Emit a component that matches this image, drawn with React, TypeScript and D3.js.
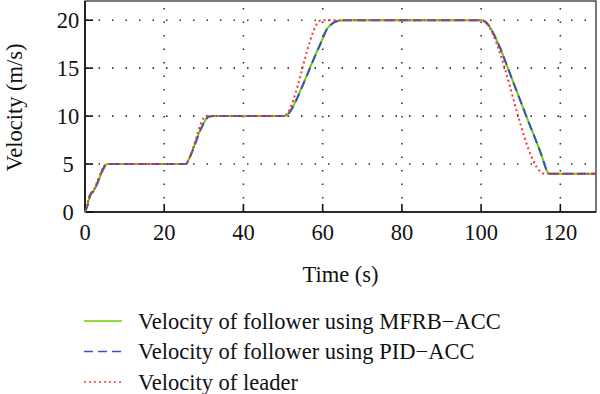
import React from 'react';
import * as d3 from 'd3';

// leader velocity (m/s) vs time (s)
const leaderTime = [0, 0.5, 1.3, 1.8, 5.5, 25.2, 30.6, 50.1, 59.7, 100, 116, 129];
const leaderVel = [0, 0.7, 1.9, 2.1, 5, 5, 10, 10, 20, 20, 4, 4];

// followers
const followerTime = [0, 0.6, 1.4, 2, 5.7, 25.5, 26.2, 29.5, 30.6, 31.3, 32.5, 50.5, 51.5, 52.5, 53.5, 54.4, 58.6, 60, 60.8, 62, 63, 64.5, 66, 100.2, 101, 102, 103, 104, 105, 106.7, 111.4, 115.5, 116.3, 116.9, 117.5, 129];
const mfrbVel = [0, 0.7, 1.9, 2.1, 5, 5, 5.5, 8.9, 9.7, 9.95, 10, 10, 10.35, 11.0, 11.85, 12.7, 16.8, 18.1, 18.9, 19.5, 19.8, 19.95, 20, 20, 19.85, 19.4, 18.7, 17.85, 16.9, 15.05, 10, 5.6, 4.6, 4.1, 4, 4];
const pidVel = [0, 0.6, 1.8, 2.1, 5, 5, 5.5, 8.85, 9.7, 9.95, 10, 10, 10.3, 10.95, 11.8, 12.65, 16.75, 18.05, 18.85, 19.5, 19.8, 19.95, 20, 20, 19.85, 19.4, 18.7, 17.85, 16.9, 15.05, 10, 5.6, 4.6, 4.1, 4, 4];

const xTicks = [0, 20, 40, 60, 80, 100, 120];
const yTicks = [0, 5, 10, 15, 20];

const legendLabels = [
  'Velocity of follower using MFRB\u2212ACC',
  'Velocity of follower using PID\u2212ACC',
  'Velocity of leader',
];

const GREEN = '#6fd000';
const BLUE = '#3b4fc4';
const RED = '#ff3030';
const FONT = '"Liberation Serif", "DejaVu Serif", serif';
const FS = 22.5;

const App = () => {
  const W = 600;
  const H = 394;
  const x = d3.scaleLinear().domain([0, 129]).range([85, 596]);
  const y = d3.scaleLinear().domain([0, 22]).range([212, 1]);

  const mkLine = (ts: number[], vs: number[]) =>
    d3.line<number>()
      .x((_, i) => x(ts[i]))
      .y(d => y(d))
      .curve(d3.curveMonotoneX)(vs) || '';

  const [x0, x1] = x.range();
  const [y0, y1] = y.range();

  const styles = [
    { color: GREEN, dash: undefined as string | undefined },
    { color: BLUE, dash: '9 5' },
    { color: RED, dash: '2 3' },
  ];

  return (
    <div style={{ position: 'absolute', left: 0, top: 0 }}>
      <svg width={W} height={H} style={{ display: 'block', background: '#fff' }} fontFamily={FONT}>
        {/* grid */}
        {xTicks.filter(t => t > 0).map(t => (
          <line key={'gx' + t} x1={x(t)} x2={x(t)} y1={y0} y2={y1}
            stroke="#333" strokeWidth={1.6} strokeDasharray="1.5 12" />
        ))}
        {yTicks.filter(t => t > 0).map(t => (
          <line key={'gy' + t} x1={x0} x2={x1} y1={y(t)} y2={y(t)}
            stroke="#333" strokeWidth={1.6} strokeDasharray="1.5 12" />
        ))}

        {/* frame */}
        <rect x={x0} y={y1} width={x1 - x0} height={y0 - y1} fill="none" stroke="#222" strokeWidth={1.2} />
        <line x1={x0} x2={x1} y1={y0} y2={y0} stroke="#111" strokeWidth={1.6} />
        <line x1={x0} x2={x0} y1={y0} y2={y1} stroke="#111" strokeWidth={1.6} />

        {/* ticks */}
        {xTicks.map(t => (
          <g key={'xt' + t}>
            <line x1={x(t)} x2={x(t)} y1={y0} y2={y0 - 8} stroke="#111" strokeWidth={1.6} />
            <text x={x(t)} y={240} textAnchor="middle" fontSize={FS} fill="#111">{t}</text>
          </g>
        ))}
        {yTicks.map(t => (
          <g key={'yt' + t}>
            <line x1={x0} x2={x0 + 8} y1={y(t)} y2={y(t)} stroke="#111" strokeWidth={1.6} />
            <text x={68} y={y(t) + 7.5} textAnchor="middle" fontSize={FS} fill="#111">{t}</text>
          </g>
        ))}

        {/* axis titles */}
        <text x={(x0 + x1) / 2} y={282} textAnchor="middle" fontSize={FS} fill="#111">Time (s)</text>
        <text transform={`translate(22,${(y0 + y1) / 2 + 1}) rotate(-90)`} textAnchor="middle" fontSize={FS} fill="#111">Velocity (m/s)</text>

        {/* series */}
        <path d={mkLine(followerTime, mfrbVel)} fill="none" stroke={GREEN} strokeWidth={2} />
        <path d={mkLine(followerTime, pidVel)} fill="none" stroke={BLUE} strokeWidth={2} strokeDasharray="9 5" />
        <path d={mkLine(leaderTime, leaderVel)} fill="none" stroke={RED} strokeWidth={2} strokeDasharray="2 3" />

        {/* legend */}
        {legendLabels.map((label, i) => (
          <g key={label} transform={`translate(0,${321 + i * 30.5})`}>
            <line x1={84} x2={122} y1={0} y2={0} stroke={styles[i].color} strokeWidth={1.6}
              strokeDasharray={styles[i].dash} />
            <text x={138} y={7.5} fontSize={FS} fill="#111">{label}</text>
          </g>
        ))}
      </svg>
    </div>
  );
};

export default App;
